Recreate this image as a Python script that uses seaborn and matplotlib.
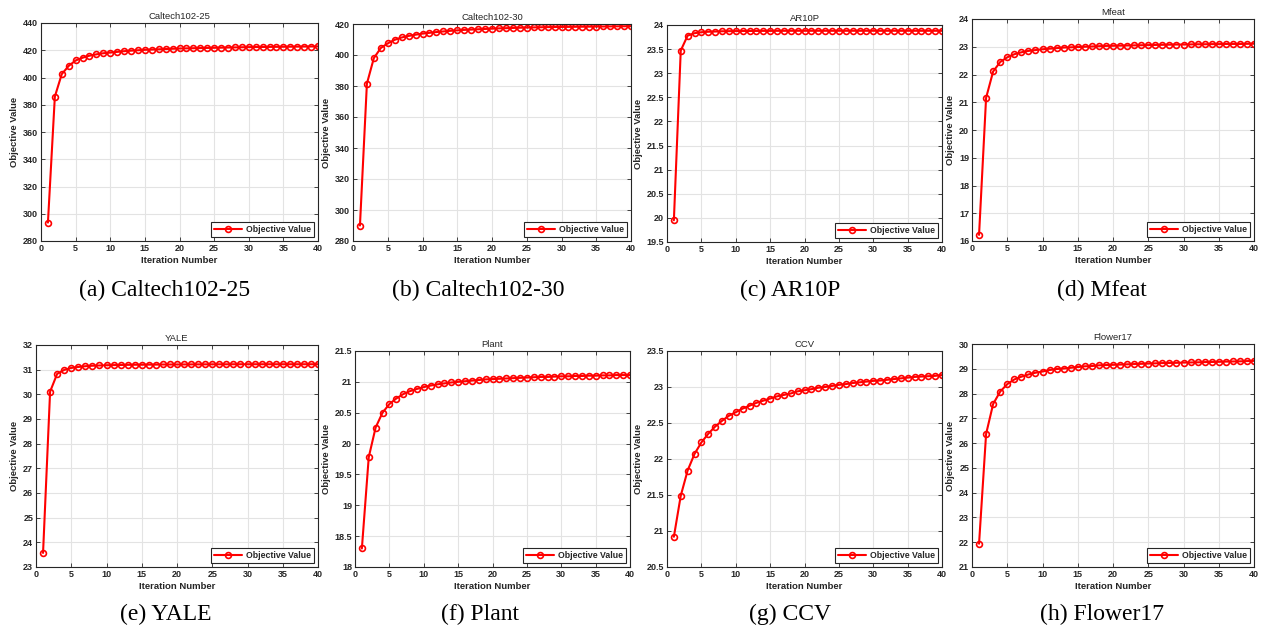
import numpy as np
import pandas as pd
import matplotlib
matplotlib.use("Agg")
import matplotlib.pyplot as plt
import seaborn as sns

iterations = list(range(1, 41))

caltech25 = [293.5, 386.0, 402.5, 408.5, 412.5, 414.5, 416.0, 417.0, 417.8, 418.3,
             418.8, 419.3, 419.7, 420.0, 420.3, 420.5, 420.7, 420.9, 421.1, 421.3,
             421.4, 421.5, 421.6, 421.7, 421.8, 421.9, 422.0, 422.1, 422.2, 422.3,
             422.35, 422.4, 422.45, 422.5, 422.55, 422.6, 422.65, 422.7, 422.75, 422.8]
caltech30 = [290.0, 381.5, 398.0, 404.5, 407.5, 409.8, 411.3, 412.3, 413.1, 413.8,
             414.3, 414.8, 415.2, 415.6, 415.9, 416.2, 416.4, 416.6, 416.8, 417.0,
             417.2, 417.3, 417.45, 417.6, 417.7, 417.8, 417.9, 418.0, 418.05, 418.1,
             418.15, 418.2, 418.25, 418.3, 418.35, 418.4, 418.45, 418.5, 418.55, 418.6]
ar10p = [19.95, 23.47, 23.78, 23.83, 23.85, 23.86, 23.865, 23.87, 23.872, 23.874,
         23.875, 23.876, 23.877, 23.878, 23.878, 23.879, 23.879, 23.88, 23.88, 23.88,
         23.88, 23.88, 23.88, 23.88, 23.88, 23.88, 23.88, 23.88, 23.88, 23.88,
         23.88, 23.88, 23.88, 23.88, 23.88, 23.88, 23.88, 23.88, 23.88, 23.88]
mfeat = [16.22, 21.16, 22.11, 22.45, 22.62, 22.73, 22.80, 22.85, 22.88, 22.91,
         22.93, 22.95, 22.97, 22.98, 22.99, 23.00, 23.01, 23.02, 23.03, 23.035,
         23.04, 23.045, 23.05, 23.055, 23.06, 23.065, 23.07, 23.075, 23.08, 23.08,
         23.085, 23.09, 23.09, 23.095, 23.095, 23.10, 23.10, 23.10, 23.105, 23.11]
yale = [23.57, 30.11, 30.83, 30.99, 31.07, 31.11, 31.14, 31.16, 31.17, 31.18,
        31.185, 31.19, 31.195, 31.20, 31.20, 31.205, 31.205, 31.21, 31.21, 31.21,
        31.212, 31.214, 31.215, 31.216, 31.217, 31.218, 31.218, 31.219, 31.22, 31.22,
        31.22, 31.22, 31.22, 31.22, 31.22, 31.22, 31.22, 31.22, 31.22, 31.22]
plant = [18.30, 19.78, 20.26, 20.50, 20.64, 20.73, 20.80, 20.85, 20.885, 20.915,
         20.94, 20.96, 20.975, 20.99, 21.00, 21.01, 21.02, 21.03, 21.04, 21.045,
         21.05, 21.055, 21.06, 21.065, 21.07, 21.075, 21.08, 21.08, 21.085, 21.09,
         21.09, 21.095, 21.095, 21.10, 21.10, 21.105, 21.105, 21.11, 21.11, 21.11]
ccv = [20.92, 21.49, 21.84, 22.07, 22.23, 22.35, 22.45, 22.53, 22.60, 22.65,
       22.70, 22.74, 22.78, 22.81, 22.84, 22.87, 22.89, 22.91, 22.94, 22.955,
       22.97, 22.99, 23.00, 23.015, 23.03, 23.04, 23.055, 23.065, 23.075, 23.085,
       23.09, 23.10, 23.11, 23.12, 23.13, 23.14, 23.145, 23.15, 23.155, 23.165]
flower17 = [21.94, 26.37, 27.58, 28.08, 28.38, 28.57, 28.68, 28.77, 28.84, 28.89,
            28.95, 28.99, 29.01, 29.04, 29.07, 29.10, 29.11, 29.14, 29.15, 29.16,
            29.17, 29.18, 29.19, 29.20, 29.21, 29.22, 29.23, 29.235, 29.24, 29.25,
            29.255, 29.26, 29.27, 29.275, 29.28, 29.29, 29.295, 29.30, 29.31, 29.32]

titles = ["Caltech102-25", "Caltech102-30", "AR10P", "Mfeat",
          "YALE", "Plant", "CCV", "Flower17"]
captions = ["(a) Caltech102-25", "(b) Caltech102-30", "(c) AR10P", "(d) Mfeat",
            "(e) YALE", "(f) Plant", "(g) CCV", "(h) Flower17"]
series = [caltech25, caltech30, ar10p, mfeat, yale, plant, ccv, flower17]
y_ticks = [np.arange(280, 441, 20), np.arange(280, 421, 20),
           np.arange(19.5, 24.01, 0.5), np.arange(16, 24.01, 1),
           np.arange(23, 32.01, 1), np.arange(18, 21.51, 0.5),
           np.arange(20.5, 23.51, 0.5), np.arange(21, 30.01, 1)]
x_ticks = list(range(0, 41, 5))

sns.set_theme(style="whitegrid")
plt.rcParams['font.family'] = ['Liberation Sans', 'DejaVu Sans']

W, H = 1270, 631
fig = plt.figure(figsize=(W / 100, H / 100), dpi=100)

# axes boxes in pixels: left, top, right, bottom
boxes = [(41, 23, 318, 241), (353, 24, 631, 241), (667, 25, 942, 242), (972, 19, 1254, 241),
         (36, 345, 318, 567), (355, 351, 630, 567), (667, 351, 942, 567), (972, 344, 1254, 567)]
cap_pos = [(165, 290), (478, 290), (790, 290), (1102, 290),
           (166, 614), (480, 614), (790, 614), (1102, 614)]

for i in range(8):
    l, t, r, b = boxes[i]
    ax = fig.add_axes([l / W, 1 - b / H, (r - l) / W, (b - t) / H])
    df = pd.DataFrame({"Iteration Number": iterations, "Objective Value": series[i]})
    sns.lineplot(data=df, x="Iteration Number", y="Objective Value", ax=ax,
                 color="#ff0000", linewidth=1.5, marker="o", markersize=4.2,
                 markerfacecolor="none", markeredgecolor="#ff0000", markeredgewidth=1.2,
                 label="Objective Value")
    yt = y_ticks[i]
    ax.set_xlim(0, 40)
    ax.set_ylim(yt[0], yt[-1])
    ax.set_xticks(x_ticks)
    ax.set_yticks(yt)
    ax.set_yticklabels([("%g" % v) for v in yt])
    ax.set_facecolor("white")
    ax.grid(True, color="#e3e3e3", linewidth=0.8)
    for s in ax.spines.values():
        s.set_color("#262626")
        s.set_linewidth(0.8)
        s.set_visible(True)
    ax.tick_params(direction="in", length=3, width=0.6, colors="#262626",
                   labelsize=6.5, pad=2, top=True, right=True,
                   bottom=True, left=True)
    for lab in ax.get_xticklabels() + ax.get_yticklabels():
        lab.set_fontweight("bold")
    ax.set_xlabel("Iteration Number", fontsize=6.8, fontweight="bold", labelpad=2,
                  color="#262626")
    ax.set_ylabel("Objective Value", fontsize=6.8, fontweight="bold", labelpad=3,
                  color="#262626")
    ax.set_title(titles[i], fontsize=6.8, pad=3, color="#262626")
    leg = ax.legend(loc="lower right", prop={"size": 6.3, "weight": "bold"},
                    frameon=True, fancybox=False, edgecolor="#262626",
                    handlelength=3.2, borderpad=0.35, borderaxespad=0.5,
                    handletextpad=0.4)
    leg.get_frame().set_linewidth(0.8)
    leg.get_frame().set_facecolor("white")
    leg.get_frame().set_alpha(1)
    cx, cy = cap_pos[i]
    fig.text(cx / W, 1 - cy / H, captions[i], ha="center", va="center",
             fontsize=17, family=["Liberation Serif", "DejaVu Serif"], color="black")

fig.savefig("out.png", dpi=100, facecolor="white")
